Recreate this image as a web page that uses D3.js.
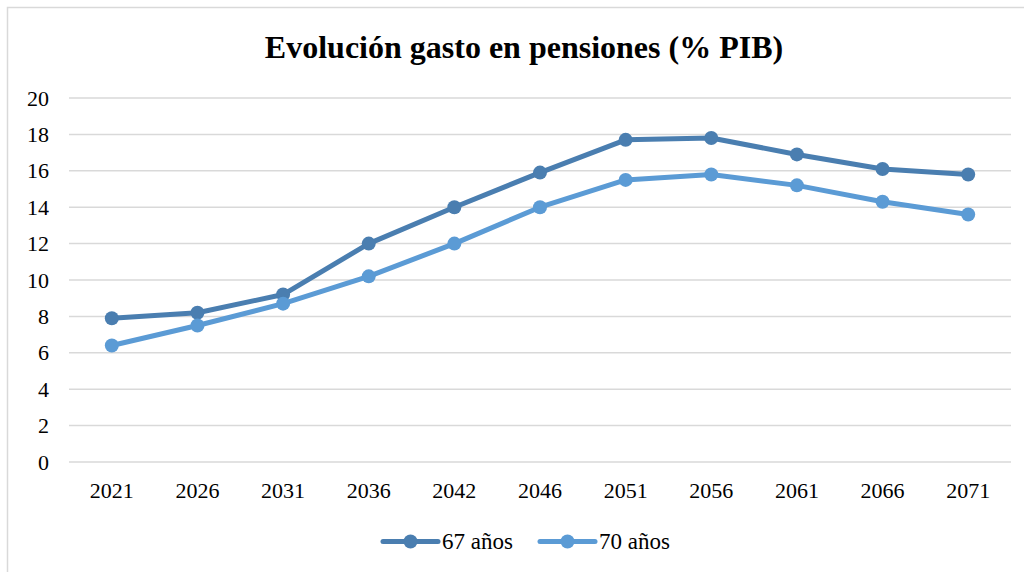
<!DOCTYPE html>
<html><head><meta charset="utf-8">
<script src="https://cdn.jsdelivr.net/npm/d3@7"></script>
<style>body{margin:0;background:#fff}svg{display:block}svg text{font-family:"Liberation Serif",serif}</style>
</head><body><svg id="c" width="1024" height="572"></svg>
<script>
const categories = ["2021","2026","2031","2036","2042","2046","2051","2056","2061","2066","2071"];
const series67 = [7.9, 8.2, 9.2, 12.0, 14.0, 15.9, 17.7, 17.8, 16.9, 16.1, 15.8];
const series70 = [6.4, 7.5, 8.7, 10.2, 12.0, 14.0, 15.5, 15.8, 15.2, 14.3, 13.6];
const yTicks = [0,2,4,6,8,10,12,14,16,18,20];
const seriesNames = ["67 años","70 años"];
const colors = ["#4a7eb0","#5b9bd5"];

const ff = "Liberation Serif";
const svg = d3.select("#c");
svg.append("rect").attr("x",7.5).attr("y",7.5).attr("width",1030).attr("height",600)
  .attr("fill","#fff").attr("stroke","#d9d9d9").attr("stroke-width",1.5);

const x = d3.scaleBand().domain(categories).range([69,1011]);
const y = d3.scaleLinear().domain([0,20]).range([462,98]);

svg.append("text").attr("x",524).attr("y",58).attr("text-anchor","middle")
  .style("font-family",ff).style("font-weight","bold").style("font-size","32px")
  .text("Evolución gasto en pensiones (% PIB)");

svg.append("g").selectAll("line").data(yTicks).join("line")
  .attr("x1",69).attr("x2",1011).attr("y1",d=>y(d)).attr("y2",d=>y(d))
  .attr("stroke","#d9d9d9").attr("stroke-width",1.5);

const yAxis = svg.append("g").attr("transform","translate(69,0)")
  .call(d3.axisLeft(y).tickValues(yTicks).tickSize(0).tickPadding(20));
yAxis.select(".domain").remove();
yAxis.attr("font-family",null);
yAxis.selectAll("text").style("font-family",ff).style("font-size","22px").attr("fill","#000");

const xAxis = svg.append("g").attr("transform","translate(0,462)")
  .call(d3.axisBottom(x).tickSize(0).tickPadding(20));
xAxis.select(".domain").remove();
xAxis.attr("font-family",null);
xAxis.selectAll("text").style("font-family",ff).style("font-size","22px").attr("fill","#000");

const line = d3.line().x((d,i)=>x(categories[i])+x.bandwidth()/2).y(d=>y(d));
[series67, series70].forEach((s,k)=>{
  svg.append("path").datum(s).attr("d",line).attr("fill","none")
    .attr("stroke",colors[k]).attr("stroke-width",5).attr("stroke-linejoin","round");
  svg.selectAll(null).data(s).join("circle")
    .attr("cx",(d,i)=>x(categories[i])+x.bandwidth()/2).attr("cy",d=>y(d))
    .attr("r",7).attr("fill",colors[k]);
});

const legX = [383, 540];
seriesNames.forEach((n,k)=>{
  const lg = svg.append("g").attr("transform",`translate(${legX[k]},541.5)`);
  lg.append("line").attr("x1",0).attr("x2",55).attr("stroke",colors[k]).attr("stroke-width",5).attr("stroke-linecap","round");
  lg.append("circle").attr("cx",27.5).attr("r",7).attr("fill",colors[k]);
  lg.append("text").attr("x",59).attr("y",7.5).style("font-family",ff).style("font-size","23px").text(n);
});
</script></body></html>
